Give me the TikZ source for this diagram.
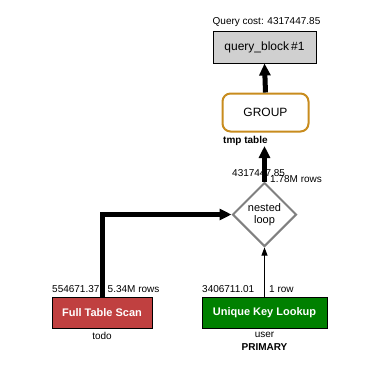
\documentclass[tikz,border=0pt]{standalone}
\usepackage{fontspec}
\setmainfont{Liberation Sans}
\usetikzlibrary{arrows.meta,shapes.geometric}
\definecolor{qgray}{RGB}{208,208,208}
\definecolor{grpgold}{RGB}{200,140,30}
\definecolor{ftsred}{RGB}{192,64,64}
\definecolor{uklgreen}{RGB}{0,128,0}
\definecolor{dgray}{RGB}{128,128,128}
\tikzset{
  lbl/.style={font=\fontsize{10}{11}\selectfont, inner sep=0pt},
  blbl/.style={font=\fontsize{10}{11}\selectfont\bfseries, inner sep=0pt},
  opbox/.style={rectangle, draw=black, line width=1pt, inner sep=0pt, text=white, font=\fontsize{11}{12}\selectfont\bfseries},
  thickarrow/.style={line width=5pt, -{Triangle[width=11pt,length=12pt]}},
  thinarrow/.style={line width=1pt, -{Triangle[width=6pt,length=8pt]}},
}
\begin{document}
\begin{tikzpicture}[x=1pt,y=-1pt]
\useasboundingbox (0,0) rectangle (384,368);
% nodes
\node[rectangle, draw=black, line width=1pt, fill=qgray, minimum width=103pt, minimum height=32pt, inner sep=0pt, font=\fontsize{12}{13}\selectfont] (qb) at (264.5,47) {query\_block\,\#1};
\node[lbl, anchor=south] (qc) at (qb.north) [xshift=2pt, yshift=4pt] {Query cost: 4317447.85};
\node[rectangle, rounded corners=8pt, draw=grpgold, line width=2pt, fill=white, minimum width=86pt, minimum height=38pt, inner sep=0pt, font=\fontsize{12}{13}\selectfont] (grp) at (265.5,112.5) {GROUP};
\node[blbl, anchor=north west] (tmp) at (223,136) {tmp table};
\coordinate (tmpend) at (264.5,146);
\node[diamond, draw=dgray, line width=2pt, minimum width=64pt, minimum height=64pt, inner sep=0pt, align=center, font=\fontsize{11}{11.5}\selectfont] (nl) at (264.5,214.5) {nested\\loop};
\node[lbl, anchor=west] (nlc) at (232,173) {4317447.85};
\node[lbl, anchor=west] (nlr) at (270,179) {1.78M rows};
\node[opbox, fill=ftsred, minimum width=100pt, minimum height=31pt] (fts) at (102,312.5) {Full Table Scan};
\node[lbl, anchor=north] (todo) at (102,332) {todo};
\node[lbl, anchor=west] (ftsc) at (52,289) {554671.37};
\node[lbl, anchor=west] (ftsr) at (107.5,289) {5.34M rows};
\node[opbox, fill=uklgreen, minimum width=125pt, minimum height=31pt] (ukl) at (264.5,312.5) {Unique Key Lookup};
\node[lbl, anchor=north] (usr) at (264.5,332) {user};
\node[blbl, anchor=north] (pk) at (264.5,343) {PRIMARY};
\node[lbl, anchor=west] (uklc) at (202,289) {3406711.01};
\node[lbl, anchor=west] (uklr) at (269,289) {1 row};
% connectors
\draw[thickarrow] (fts.north) |- (nl.west);
\draw[thinarrow] (ukl.north) -- (nl.south);
\draw[thickarrow] (nl.north) -- (tmpend);
\draw[thickarrow] (grp.north) -- (qb.south);
\end{tikzpicture}
\end{document}
